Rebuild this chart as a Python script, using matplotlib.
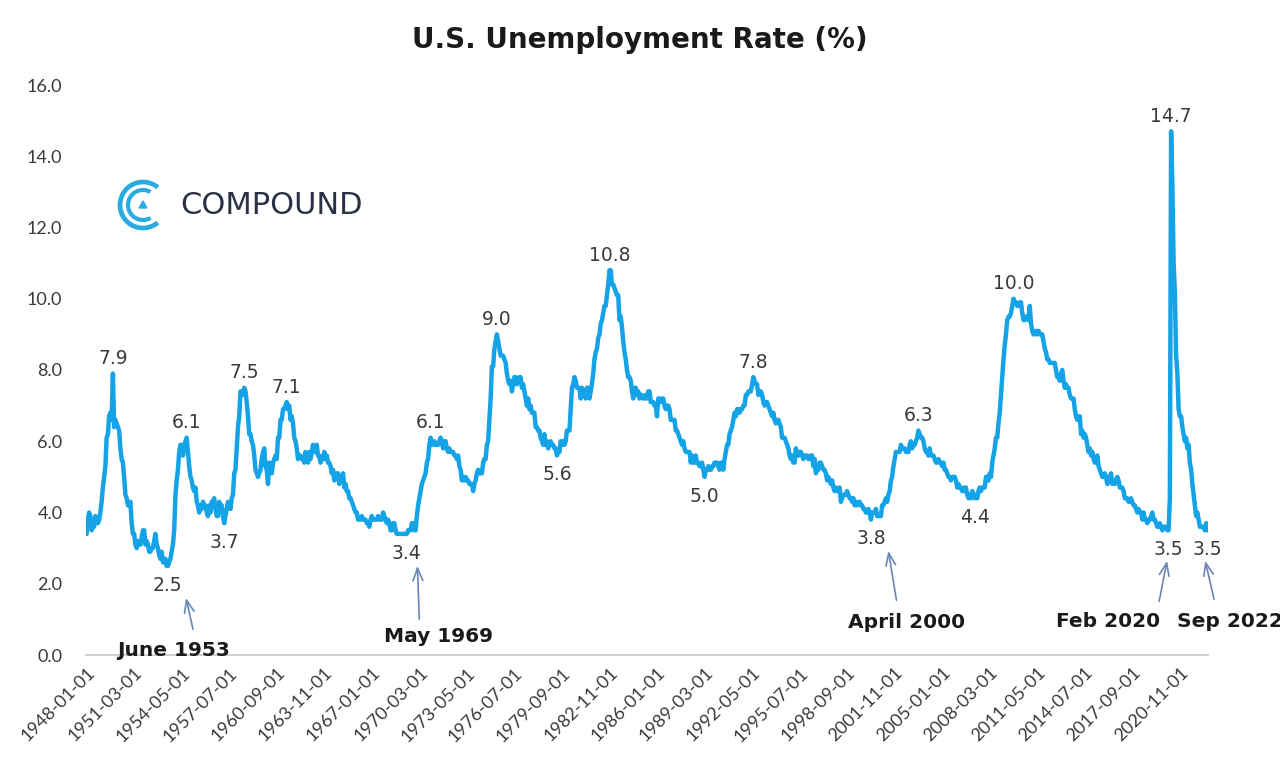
import numpy as np
import pandas as pd
import matplotlib
matplotlib.use("Agg")
import matplotlib.pyplot as plt
from matplotlib.patches import Arc, Polygon

# Monthly U.S. unemployment rate (%), Jan 1948 - Sep 2022, one row per year
unemployment_rate = [
    3.4, 3.8, 4.0, 3.9, 3.5, 3.6, 3.6, 3.9, 3.8, 3.7, 3.8, 4.0,        # 1948
    4.3, 4.7, 5.0, 5.3, 6.1, 6.2, 6.7, 6.8, 6.6, 7.9, 6.4, 6.6,        # 1949
    6.5, 6.4, 6.3, 5.8, 5.5, 5.4, 5.0, 4.5, 4.4, 4.2, 4.2, 4.3,        # 1950
    3.7, 3.4, 3.4, 3.1, 3.0, 3.2, 3.1, 3.1, 3.3, 3.5, 3.5, 3.1,        # 1951
    3.2, 3.1, 2.9, 2.9, 3.0, 3.0, 3.2, 3.4, 3.1, 3.0, 2.8, 2.7,        # 1952
    2.9, 2.6, 2.6, 2.7, 2.5, 2.5, 2.6, 2.7, 2.9, 3.1, 3.5, 4.5,        # 1953
    4.9, 5.2, 5.7, 5.9, 5.9, 5.6, 5.8, 6.0, 6.1, 5.7, 5.3, 5.0,        # 1954
    4.9, 4.7, 4.6, 4.7, 4.3, 4.2, 4.0, 4.2, 4.1, 4.3, 4.2, 4.2,        # 1955
    4.0, 3.9, 4.2, 4.0, 4.3, 4.3, 4.4, 4.1, 3.9, 3.9, 4.3, 4.2,        # 1956
    4.2, 3.9, 3.7, 3.9, 4.1, 4.3, 4.2, 4.1, 4.4, 4.5, 5.1, 5.2,        # 1957
    5.8, 6.4, 6.7, 7.4, 7.4, 7.3, 7.5, 7.4, 7.1, 6.7, 6.2, 6.2,        # 1958
    6.0, 5.9, 5.6, 5.2, 5.1, 5.0, 5.1, 5.2, 5.5, 5.7, 5.8, 5.3,        # 1959
    5.2, 4.8, 5.4, 5.2, 5.1, 5.4, 5.5, 5.6, 5.5, 6.1, 6.1, 6.6,        # 1960
    6.6, 6.9, 6.9, 7.0, 7.1, 6.9, 7.0, 6.6, 6.7, 6.5, 6.1, 6.0,        # 1961
    5.8, 5.5, 5.6, 5.6, 5.5, 5.5, 5.4, 5.7, 5.6, 5.4, 5.7, 5.5,        # 1962
    5.7, 5.9, 5.7, 5.7, 5.9, 5.6, 5.6, 5.4, 5.5, 5.5, 5.7, 5.5,        # 1963
    5.6, 5.4, 5.4, 5.3, 5.1, 5.2, 4.9, 5.0, 5.1, 5.1, 4.8, 5.0,        # 1964
    4.9, 5.1, 4.7, 4.8, 4.6, 4.6, 4.4, 4.4, 4.3, 4.2, 4.1, 4.0,        # 1965
    4.0, 3.8, 3.8, 3.8, 3.9, 3.8, 3.8, 3.8, 3.7, 3.7, 3.6, 3.8,        # 1966
    3.9, 3.8, 3.8, 3.8, 3.8, 3.9, 3.8, 3.8, 3.8, 4.0, 3.9, 3.8,        # 1967
    3.7, 3.8, 3.7, 3.5, 3.5, 3.7, 3.7, 3.5, 3.4, 3.4, 3.4, 3.4,        # 1968
    3.4, 3.4, 3.4, 3.4, 3.4, 3.5, 3.5, 3.5, 3.7, 3.7, 3.5, 3.5,        # 1969
    3.9, 4.2, 4.4, 4.6, 4.8, 4.9, 5.0, 5.1, 5.4, 5.5, 5.9, 6.1,        # 1970
    5.9, 5.9, 6.0, 5.9, 5.9, 5.9, 6.0, 6.1, 6.0, 5.8, 6.0, 6.0,        # 1971
    5.8, 5.7, 5.8, 5.7, 5.7, 5.7, 5.6, 5.6, 5.5, 5.6, 5.3, 5.2,        # 1972
    4.9, 5.0, 4.9, 5.0, 4.9, 4.9, 4.8, 4.8, 4.8, 4.6, 4.8, 4.9,        # 1973
    5.1, 5.2, 5.1, 5.1, 5.1, 5.4, 5.5, 5.5, 5.9, 6.0, 6.6, 7.2,        # 1974
    8.1, 8.1, 8.6, 8.8, 9.0, 8.8, 8.6, 8.4, 8.4, 8.4, 8.3, 8.2,        # 1975
    7.9, 7.7, 7.6, 7.7, 7.4, 7.6, 7.8, 7.8, 7.6, 7.7, 7.8, 7.8,        # 1976
    7.5, 7.6, 7.4, 7.2, 7.0, 7.2, 6.9, 7.0, 6.8, 6.8, 6.8, 6.4,        # 1977
    6.4, 6.3, 6.3, 6.1, 6.0, 5.9, 6.2, 5.9, 6.0, 5.8, 5.9, 6.0,        # 1978
    5.9, 5.9, 5.8, 5.8, 5.6, 5.7, 5.7, 6.0, 5.9, 6.0, 5.9, 6.0,        # 1979
    6.3, 6.3, 6.3, 6.9, 7.5, 7.6, 7.8, 7.7, 7.5, 7.5, 7.5, 7.2,        # 1980
    7.5, 7.4, 7.4, 7.2, 7.5, 7.5, 7.2, 7.4, 7.6, 7.9, 8.3, 8.5,        # 1981
    8.6, 8.9, 9.0, 9.3, 9.4, 9.6, 9.8, 9.8, 10.1, 10.4, 10.8, 10.8,    # 1982
    10.4, 10.4, 10.3, 10.2, 10.1, 10.1, 9.4, 9.5, 9.2, 8.8, 8.5, 8.3,  # 1983
    8.0, 7.8, 7.8, 7.7, 7.4, 7.2, 7.5, 7.5, 7.3, 7.4, 7.2, 7.3,        # 1984
    7.3, 7.2, 7.2, 7.3, 7.2, 7.4, 7.4, 7.1, 7.1, 7.1, 7.0, 7.0,        # 1985
    6.7, 7.2, 7.2, 7.1, 7.2, 7.2, 7.0, 6.9, 7.0, 7.0, 6.9, 6.6,        # 1986
    6.6, 6.6, 6.6, 6.3, 6.3, 6.2, 6.1, 6.0, 5.9, 6.0, 5.8, 5.7,        # 1987
    5.7, 5.7, 5.7, 5.4, 5.6, 5.4, 5.4, 5.6, 5.4, 5.4, 5.3, 5.3,        # 1988
    5.4, 5.2, 5.0, 5.2, 5.2, 5.3, 5.2, 5.2, 5.3, 5.3, 5.4, 5.4,        # 1989
    5.4, 5.3, 5.2, 5.4, 5.4, 5.2, 5.5, 5.7, 5.9, 5.9, 6.2, 6.3,        # 1990
    6.4, 6.6, 6.8, 6.7, 6.9, 6.9, 6.8, 6.9, 6.9, 7.0, 7.0, 7.3,        # 1991
    7.3, 7.4, 7.4, 7.4, 7.6, 7.8, 7.7, 7.6, 7.6, 7.3, 7.4, 7.4,        # 1992
    7.3, 7.1, 7.0, 7.1, 7.1, 7.0, 6.9, 6.8, 6.7, 6.8, 6.6, 6.5,        # 1993
    6.6, 6.6, 6.5, 6.4, 6.1, 6.1, 6.1, 6.0, 5.9, 5.8, 5.6, 5.5,        # 1994
    5.6, 5.4, 5.4, 5.8, 5.6, 5.6, 5.7, 5.7, 5.6, 5.5, 5.6, 5.6,        # 1995
    5.6, 5.5, 5.5, 5.6, 5.6, 5.3, 5.5, 5.1, 5.2, 5.2, 5.4, 5.4,        # 1996
    5.3, 5.2, 5.2, 5.1, 4.9, 5.0, 4.9, 4.8, 4.9, 4.7, 4.6, 4.7,        # 1997
    4.6, 4.6, 4.7, 4.3, 4.4, 4.5, 4.5, 4.5, 4.6, 4.5, 4.4, 4.4,        # 1998
    4.3, 4.4, 4.2, 4.3, 4.2, 4.3, 4.3, 4.2, 4.2, 4.1, 4.1, 4.0,        # 1999
    4.0, 4.1, 4.0, 3.8, 4.0, 4.0, 4.0, 4.1, 3.9, 3.9, 3.9, 3.9,        # 2000
    4.2, 4.2, 4.3, 4.4, 4.3, 4.5, 4.6, 4.9, 5.0, 5.3, 5.5, 5.7,        # 2001
    5.7, 5.7, 5.7, 5.9, 5.8, 5.8, 5.8, 5.7, 5.7, 5.7, 5.9, 6.0,        # 2002
    5.8, 5.9, 5.9, 6.0, 6.1, 6.3, 6.2, 6.1, 6.1, 6.0, 5.8, 5.7,        # 2003
    5.7, 5.6, 5.8, 5.6, 5.6, 5.6, 5.5, 5.4, 5.4, 5.5, 5.4, 5.4,        # 2004
    5.3, 5.4, 5.2, 5.2, 5.1, 5.0, 5.0, 4.9, 5.0, 5.0, 5.0, 4.9,        # 2005
    4.7, 4.8, 4.7, 4.7, 4.6, 4.6, 4.7, 4.7, 4.5, 4.4, 4.5, 4.4,        # 2006
    4.6, 4.5, 4.4, 4.5, 4.4, 4.6, 4.7, 4.6, 4.7, 4.7, 4.7, 5.0,        # 2007
    5.0, 4.9, 5.1, 5.0, 5.4, 5.6, 5.8, 6.1, 6.1, 6.5, 6.8, 7.3,        # 2008
    7.8, 8.3, 8.7, 9.0, 9.4, 9.5, 9.5, 9.6, 9.8, 10.0, 9.9, 9.9,       # 2009
    9.8, 9.8, 9.9, 9.9, 9.6, 9.4, 9.4, 9.5, 9.5, 9.4, 9.8, 9.3,        # 2010
    9.1, 9.0, 9.0, 9.1, 9.0, 9.1, 9.0, 9.0, 9.0, 8.8, 8.6, 8.5,        # 2011
    8.3, 8.3, 8.2, 8.2, 8.2, 8.2, 8.2, 8.0, 7.8, 7.8, 7.7, 7.9,        # 2012
    8.0, 7.7, 7.5, 7.6, 7.5, 7.5, 7.3, 7.2, 7.2, 7.2, 6.9, 6.7,        # 2013
    6.6, 6.7, 6.7, 6.2, 6.3, 6.1, 6.2, 6.1, 5.9, 5.7, 5.8, 5.6,        # 2014
    5.7, 5.5, 5.4, 5.4, 5.6, 5.3, 5.2, 5.1, 5.0, 5.0, 5.1, 5.0,        # 2015
    4.8, 4.9, 5.0, 5.1, 4.8, 4.9, 4.8, 4.9, 5.0, 4.9, 4.7, 4.7,        # 2016
    4.7, 4.6, 4.4, 4.4, 4.4, 4.3, 4.3, 4.4, 4.3, 4.2, 4.2, 4.1,        # 2017
    4.0, 4.1, 4.0, 4.0, 3.8, 4.0, 3.8, 3.8, 3.7, 3.8, 3.8, 3.9,        # 2018
    4.0, 3.8, 3.8, 3.7, 3.6, 3.6, 3.7, 3.6, 3.5, 3.6, 3.6, 3.6,        # 2019
    3.5, 3.5, 4.4, 14.7, 13.2, 11.0, 10.2, 8.4, 7.9, 6.9, 6.7, 6.7,    # 2020
    6.4, 6.2, 6.0, 6.1, 5.8, 5.9, 5.4, 5.2, 4.8, 4.5, 4.2, 3.9,        # 2021
    4.0, 3.8, 3.6, 3.6, 3.6, 3.6, 3.5, 3.7, 3.5,                       # 2022
]
months = pd.period_range("1948-01", "2022-09", freq="M")

# peaks / troughs that carry a value label
label_months = ["1949-10", "1953-06", "1954-09", "1957-03", "1958-07", "1961-05",
                "1969-05", "1970-12", "1975-05", "1979-05", "1982-11", "1989-03",
                "1992-06", "2000-04", "2003-06", "2007-03", "2009-10", "2020-04",
                "2020-02", "2022-09"]
label_side = ["above", "below", "above", "below", "above", "above",
              "below", "above", "above", "below", "above", "below",
              "above", "below", "above", "below", "above", "above",
              "below", "below"]

# callouts: text, text position, arrow tail, arrow tip (x = month index, y = %)
callout_text = ["June 1953", "May 1969", "April 2000", "Feb 2020", "Sep 2022"]
callout_xy = [(69.5, 0.14), (281, 0.53), (655.8, 0.9), (816.3, 0.95), (913.7, 0.95)]
callout_tail = [(85.5, 0.65), (266, 0.93), (647.8, 1.46), (857, 1.43), (901.8, 1.49)]
callout_tip = [(79, 1.68), (264.4, 2.58), (640.6, 3.0), (864.2, 2.72), (893.8, 2.72)]

LINE_COLOR = "#14A3E6"
TEXT_COLOR = "#3a3a3a"
ARROW_COLOR = "#6A86B6"

y = np.array(unemployment_rate)
x = np.arange(len(y))
tick_step = 38

fig = plt.figure(figsize=(12.8, 7.66), dpi=100)
ax = fig.add_axes([86 / 1280, 1 - 655 / 766, (1208 - 86) / 1280, 570 / 766])

ax.plot(x, y, color=LINE_COLOR, linewidth=3.2, solid_joinstyle="round", solid_capstyle="round")

ax.set_xlim(-0.5, len(y) - 0.5)
ax.set_ylim(0, 16)
ax.set_yticks(np.arange(0, 17, 2))
ax.set_yticklabels([f"{v:.1f}" for v in np.arange(0, 17, 2)])
ticks = x[::tick_step]
ax.set_xticks(ticks)
ax.set_xticklabels([months[i].strftime("%Y-%m-01") for i in ticks],
                   rotation=45, ha="right", va="top", rotation_mode="anchor")

for s in ["top", "right", "left"]:
    ax.spines[s].set_visible(False)
ax.spines["bottom"].set_color("#c8c8c8")
ax.spines["bottom"].set_linewidth(1.2)
ax.tick_params(axis="both", length=0, colors=TEXT_COLOR)
ax.tick_params(axis="y", pad=17, labelsize=13)
ax.tick_params(axis="x", pad=7, labelsize=13)
for lab in ax.get_xticklabels() + ax.get_yticklabels():
    lab.set_fontfamily("Lato")

# value labels
for m, side in zip(label_months, label_side):
    i = months.get_loc(pd.Period(m, freq="M"))
    off, va = ((0, 4), "bottom") if side == "above" else ((0, -7), "top")
    ax.annotate(f"{y[i]:.1f}", xy=(i, y[i]), xytext=off, textcoords="offset points",
                ha="center", va=va, fontsize=13.5, color=TEXT_COLOR, family="DejaVu Sans")

# callouts with arrows
for txt, pos, tail, tip in zip(callout_text, callout_xy, callout_tail, callout_tip):
    ax.annotate("", xy=tip, xytext=tail,
                arrowprops=dict(arrowstyle="->,head_length=0.9,head_width=0.35",
                                color=ARROW_COLOR, lw=1.2))
    ax.text(pos[0], pos[1], txt, ha="center", va="center", fontsize=14.5,
            fontweight="bold", family="DejaVu Sans", color="#1a1a1a", clip_on=False)

fig.text(0.5, 1 - 40 / 766, "U.S. Unemployment Rate (%)", ha="center", va="center",
         fontsize=20, fontweight="bold", family="DejaVu Sans", color="#1a1a1a")

# Compound logo
lax = fig.add_axes([112 / 1280, 1 - 236 / 766, 62 / 1280, 62 / 766])
lax.set_xlim(-31, 31)
lax.set_ylim(-31, 31)
lax.set_aspect("equal")
lax.axis("off")
lax.add_patch(Arc((0, 0), 46, 46, theta1=50, theta2=310, color="#29ABE2", lw=3.4))
lax.add_patch(Arc((0, 0), 30, 30, theta1=60, theta2=300, color="#29ABE2", lw=3.0))
lax.add_patch(Polygon([(-4, -3), (4, -3), (0, 4)], closed=True, color="#29ABE2"))
fig.text(180 / 1280, 1 - 206 / 766, "COMPOUND", ha="left", va="center",
         fontsize=22, family="DejaVu Sans", color="#2B3044")

fig.savefig("out.png", dpi=100, facecolor="white")
